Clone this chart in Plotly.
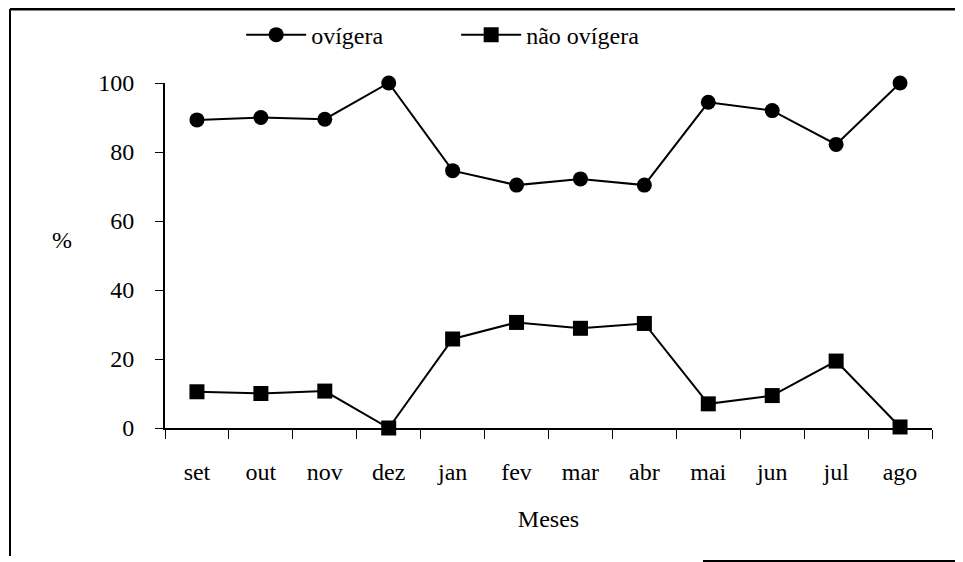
import plotly.graph_objects as go

meses = ["set", "out", "nov", "dez", "jan", "fev", "mar", "abr", "mai", "jun", "jul", "ago"]
ovigera = [89.3, 90.0, 89.5, 100.0, 74.6, 70.4, 72.2, 70.4, 94.4, 92.0, 82.2, 100.0]
nao_ovigera = [10.5, 10.0, 10.7, 0.0, 25.8, 30.6, 28.9, 30.3, 7.0, 9.4, 19.4, 0.3]
y_ticks = [0, 20, 40, 60, 80, 100]

FONT = "Liberation Serif"
FS = 24

# plot area on screen: x 165..932, y 83..428 (page has an 8px body margin)
def px(x):
    return (x - 165) / 767

def py(y):
    return (428 - y) / 345

fig = go.Figure()
fig.add_trace(go.Scatter(
    x=meses, y=ovigera, name="ovígera", mode="lines+markers",
    line=dict(color="black", width=2),
    marker=dict(symbol="circle", size=15, color="black"),
    cliponaxis=False,
))
fig.add_trace(go.Scatter(
    x=meses, y=nao_ovigera, name="não ovígera", mode="lines+markers",
    line=dict(color="black", width=2),
    marker=dict(symbol="square", size=15, color="black"),
    cliponaxis=False,
))

frame = dict(color="black", width=2)
fig.update_layout(
    width=955, height=554,
    margin=dict(l=157, r=31, t=75, b=134, autoexpand=False),
    paper_bgcolor="white", plot_bgcolor="white",
    font=dict(family=FONT, size=FS, color="black"),
    showlegend=True,
    legend=dict(
        orientation="h", x=0.0993, xanchor="left", y=1.139, yanchor="middle",
        font=dict(family=FONT, size=FS, color="black"),
        itemwidth=60, entrywidth=140, bgcolor="rgba(0,0,0,0)",
    ),
    xaxis=dict(
        type="category", categoryorder="array", categoryarray=meses,
        range=[-0.5, 11.5], tickson="boundaries",
        ticks="outside", ticklen=9, tickwidth=1, tickcolor="black",
        showline=True, linecolor="black", linewidth=2,
        showgrid=False, zeroline=False,
        ticklabelstandoff=21,
        title=dict(text="Meses", standoff=26, font=dict(family=FONT, size=FS)),
    ),
    yaxis=dict(
        range=[0, 100], tickvals=y_ticks,
        ticks="outside", ticklen=8, tickwidth=1, tickcolor="black",
        showline=True, linecolor="black", linewidth=2,
        showgrid=False, zeroline=False,
        ticklabelstandoff=16,
    ),
    annotations=[dict(
        text="%", xref="paper", yref="paper",
        x=px(62), y=py(240),
        showarrow=False, font=dict(family=FONT, size=FS, color="black"),
        xanchor="center", yanchor="middle",
    )],
    shapes=[
        dict(type="line", xref="paper", yref="paper",
             x0=px(10), x1=px(963), y0=py(9), y1=py(9), line=dict(color="black", width=3)),
        dict(type="line", xref="paper", yref="paper",
             x0=px(10), x1=px(10), y0=py(9), y1=py(556), line=frame),
        dict(type="line", xref="paper", yref="paper",
             x0=px(703), x1=px(963), y0=py(561), y1=py(561), line=frame),
    ],
)

fig.write_html("out.html")
